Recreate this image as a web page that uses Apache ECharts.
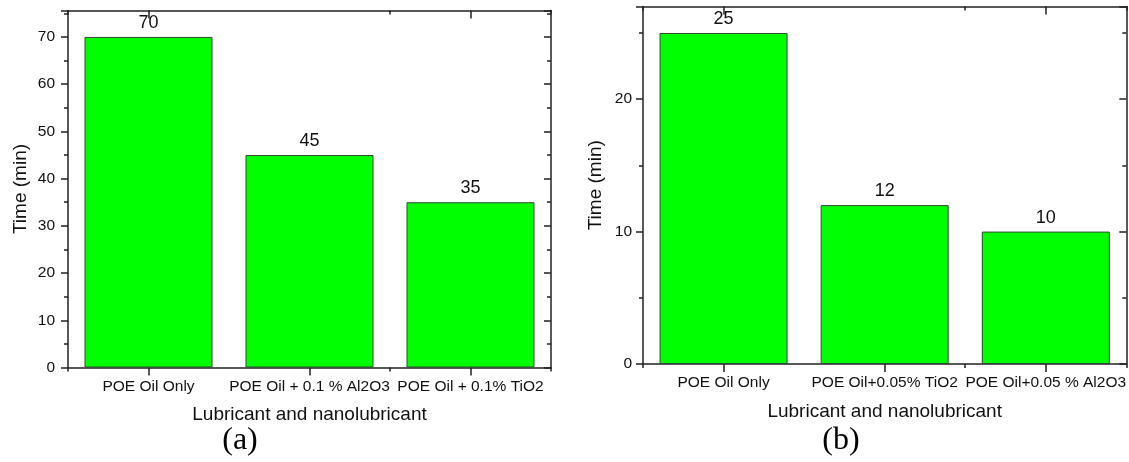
<!DOCTYPE html>
<html>
<head>
    <meta charset="utf-8">
    <title>Time by lubricant</title>
    <script src="https://cdn.jsdelivr.net/npm/echarts@6/dist/echarts.min.js"></script>
    <style>
        html, body { margin: 0; padding: 0; background: #fff; }
        #main { width: 1129px; height: 462px; }
    </style>
</head>
<body>
<div id="main"></div>
<script type="text/javascript">
  // panel (a)
  var catsA = ['POE Oil Only', 'POE Oil + 0.1 % Al2O3', 'POE Oil + 0.1% TiO2'];
  var timeA = [70, 45, 35];
  // panel (b)
  var catsB = ['POE Oil Only', 'POE Oil+0.05% TiO2', 'POE Oil+0.05 % Al2O3'];
  var timeB = [25, 12, 10];

  var xTitle = 'Lubricant and nanolubricant';
  var yTitle = 'Time (min)';
  var ink = '#222';

  var myChart = echarts.init(document.getElementById('main'));

  function xAxes(g, cats) {
    var base = { type: 'category', gridIndex: g, data: cats, boundaryGap: true, splitLine: { show: false } };
    var line = { show: true, onZero: false, lineStyle: { color: ink, width: 1.5 } };
    var noLine = { show: false, onZero: false };
    return [
      // bottom, labels + ticks at centers
      Object.assign({}, base, {
        position: 'bottom',
        axisLine: line,
        axisTick: { show: true, alignWithLabel: true, length: 8, lineStyle: { color: ink, width: 1.5 } },
        axisLabel: { interval: 0, fontSize: 15.5, color: '#111', margin: 11 },
        name: xTitle, nameLocation: 'middle', nameGap: 38,
        nameTextStyle: { fontSize: 19, color: '#111' }
      }),
      // bottom, short ticks at boundaries
      Object.assign({}, base, {
        position: 'bottom', axisLine: noLine,
        axisTick: { show: true, length: 4, lineStyle: { color: ink, width: 1.5 } },
        axisLabel: { show: false }
      }),
      // top box edge
      Object.assign({}, base, {
        position: 'top', axisLine: line,
        axisTick: { show: true, inside: true, alignWithLabel: true, length: 8, lineStyle: { color: ink, width: 1.5 } },
        axisLabel: { show: false }
      }),
      Object.assign({}, base, {
        position: 'top', axisLine: noLine,
        axisTick: { show: true, inside: true, length: 4, lineStyle: { color: ink, width: 1.5 } },
        axisLabel: { show: false }
      })
    ];
  }

  function yAxes(g, max, margin) {
    var base = {
      type: 'value', gridIndex: g, min: 0, max: max, interval: 10,
      splitLine: { show: false },
      axisLine: { show: true, onZero: false, lineStyle: { color: ink, width: 1.5 } },
      minorTick: { show: true, splitNumber: 2, length: 4, lineStyle: { color: ink, width: 1.5 } }
    };
    return [
      Object.assign({}, base, {
        position: 'left',
        axisTick: { show: true, length: 7, lineStyle: { color: ink, width: 1.5 } },
        axisLabel: { fontSize: 15.5, color: '#111', margin: margin, showMaxLabel: false },
        name: yTitle, nameLocation: 'middle', nameGap: 38,
        nameTextStyle: { fontSize: 19, color: '#111' }
      }),
      Object.assign({}, base, {
        position: 'right',
        axisTick: { show: true, inside: true, length: 7, lineStyle: { color: ink, width: 1.5 } },
        axisLabel: { show: false }
      })
    ];
  }

  function barSeries(g, values) {
    return {
      type: 'bar',
      xAxisIndex: g * 4,
      yAxisIndex: g * 2,
      data: values,
      barWidth: 128,
      itemStyle: { color: '#00ff00', borderColor: '#2f4a2f', borderWidth: 1 },
      label: { show: true, position: 'top', distance: 5, fontSize: 18, color: '#111' }
    };
  }

  var option = {
    animation: false,
    textStyle: { fontFamily: '"Liberation Sans", Arial, sans-serif' },
    grid: [
      { left: 68, top: 10.5, width: 483, height: 357 },
      { left: 643, top: 6.5, width: 484, height: 357.5 }
    ],
    xAxis: xAxes(0, catsA).concat(xAxes(1, catsB)),
    yAxis: yAxes(0, 75.6, 13).concat(yAxes(1, 27, 11)),
    series: [barSeries(0, timeA), barSeries(1, timeB)],
    graphic: [
      { type: 'text', x: 240, y: 441, style: { text: '(a)', fontSize: 32, fontFamily: '"Liberation Serif", "Times New Roman", serif', fill: '#000', align: 'center', verticalAlign: 'middle' } },
      { type: 'text', x: 841, y: 441, style: { text: '(b)', fontSize: 32, fontFamily: '"Liberation Serif", "Times New Roman", serif', fill: '#000', align: 'center', verticalAlign: 'middle' } }
    ]
  };

  myChart.setOption(option);
</script>
</body>
</html>
